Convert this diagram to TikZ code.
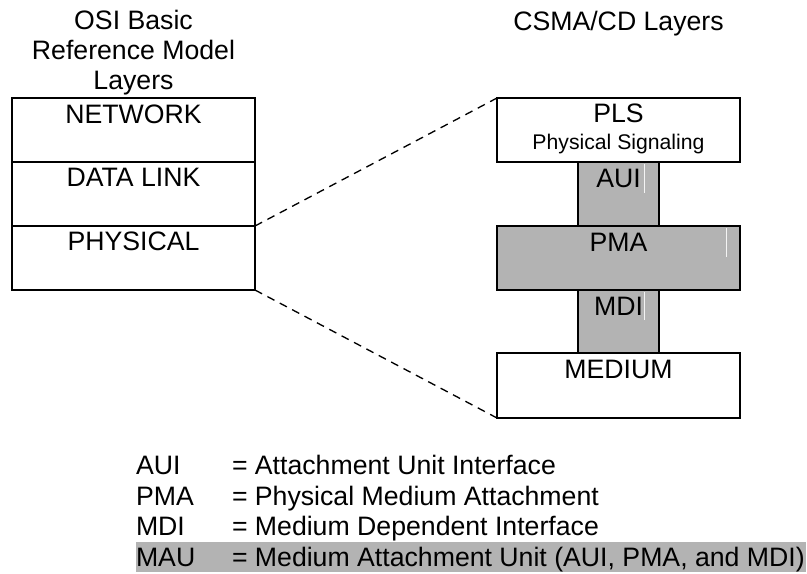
\documentclass[tikz,border=0pt]{standalone}
\usepackage{fontspec}
\setmainfont{Liberation Sans}
\usetikzlibrary{calc}
\definecolor{layergray}{RGB}{179,179,179}
\newcommand\pxu{0.75pt}
\begin{document}
\begin{tikzpicture}[x=0.75pt,y=-0.75pt,
  every node/.style={inner sep=0pt,outer sep=0pt},
  txt/.style={font=\fontsize{20}{22.5}\selectfont,anchor=base},
  small/.style={font=\fontsize{15.9}{18}\selectfont,anchor=base},
  layer/.style={draw,line width=1.5pt,minimum width=243*\pxu},
  iface/.style={draw,line width=1.5pt,fill=layergray,minimum width=81*\pxu},
  link/.style={dashed,line width=1pt,dash pattern=on 6pt off 4.5pt},
  glint/.style={line width=0.5pt,color=white!85!layergray}]
\useasboundingbox (0,0) rectangle (807,574);

% column headings (base anchor sits on the last line)
\node[txt,align=center] (osi) at (133.5,89.5) {OSI Basic\\Reference Model\\Layers};
\node[txt] (csma) at (618.5,31) {CSMA/CD Layers};

% OSI layers
\node[layer,minimum height=64*\pxu] (net)  at (133.5,130) {};
\node[layer,minimum height=64*\pxu] (dl)   at (133.5,194) {};
\node[layer,minimum height=64*\pxu] (phys) at (133.5,258) {};
\node[txt] (net-t)  at ($(net.north)+(0,26)$) {NETWORK};
\node[txt] (dl-t)   at ($(dl.north)+(0,25)$) {DATA LINK};
\node[txt] (phys-t) at ($(phys.north)+(0,25)$) {PHYSICAL};

% CSMA/CD layers
\node[layer,minimum height=64*\pxu] (pls) at (618.5,130) {};
\node[iface,minimum height=64*\pxu] (aui) at (618.5,194) {};
\node[layer,fill=layergray,minimum height=64*\pxu] (pma) at (618.5,258) {};
\node[iface,minimum height=63*\pxu] (mdi) at (618.5,321.5) {};
\node[layer,minimum height=65*\pxu] (med) at (618.5,385.5) {};
\node[txt]   (pls-t)  at ($(pls.north)+(0,25)$) {PLS};
\node[small] (pls-s)  at ($(pls.north)+(0,52)$) {Physical Signaling};
\node[txt]   (aui-t)  at ($(aui.north)+(0,26)$) {AUI};
\node[txt]   (pma-t)  at ($(pma.north)+(0,26)$) {PMA};
\node[txt]   (mdi-t)  at ($(mdi.north)+(0,25)$) {MDI};
\node[txt]   (med-t)  at ($(med.north)+(0,25)$) {MEDIUM};

% faint light strokes inside the shaded boxes
\draw[glint] (644,164) -- (644,193);
\draw[glint] (726,228) -- (726,257);
\draw[glint] (644,292) -- (644,320);

% expansion of the physical layer
\draw[link] (phys.north east) -- (pls.north west);
\draw[link] (phys.south east) -- (med.south west);

% legend
\fill[layergray] (136,542) rectangle (806,572);
\node[txt,anchor=base west] (k1) at (136,474) {AUI};
\node[txt,anchor=base west] (v1) at (232,474) {= Attachment Unit Interface};
\node[txt,anchor=base west] (k2) at (136,505) {PMA};
\node[txt,anchor=base west] (v2) at (232,505) {= Physical Medium Attachment};
\node[txt,anchor=base west] (k3) at (136,535) {MDI};
\node[txt,anchor=base west] (v3) at (232,535) {= Medium Dependent Interface};
\node[txt,anchor=base west] (k4) at (136,566) {MAU};
\node[txt,anchor=base west] (v4) at (232,566) {= Medium Attachment Unit (AUI, PMA, and MDI)};
\end{tikzpicture}
\end{document}
